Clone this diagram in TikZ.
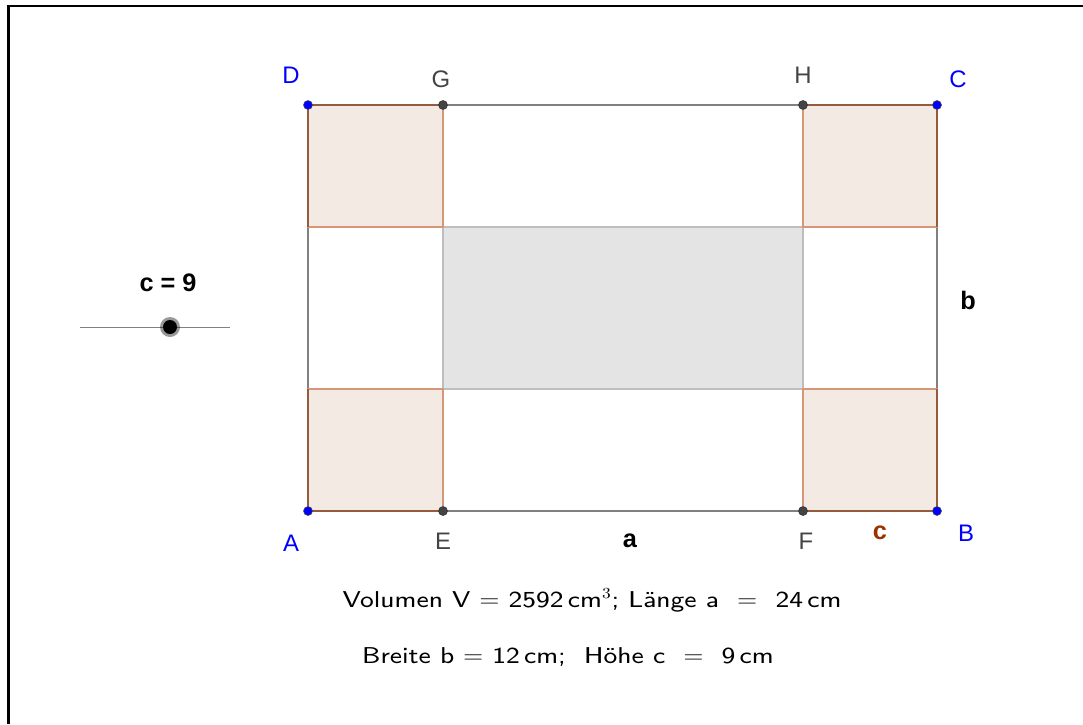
\documentclass[tikz,border=0pt]{standalone}
\usepackage{fontspec}
\newfontfamily\ggbfont{Liberation Sans}
\newfontfamily\sumfont{lmsans8-regular.otf}
\definecolor{ptblue}{RGB}{0,0,255}
\definecolor{ptgray}{RGB}{68,68,68}
\definecolor{cutfill}{RGB}{243,234,228}
\definecolor{cutline}{RGB}{214,150,120}
\definecolor{cutedge}{RGB}{150,90,60}
\definecolor{basefill}{RGB}{228,228,228}
\definecolor{baseline}{RGB}{190,190,190}
\definecolor{cbrown}{RGB}{153,51,0}

\tikzset{
  ptlabel/.style={font=\ggbfont\fontsize{17}{20}\selectfont, inner sep=0pt},
  sidelabel/.style={font=\ggbfont\bfseries\fontsize{18}{21}\selectfont, inner sep=0pt},
  sumtext/.style={font=\sumfont\fontsize{16.3}{19}\selectfont, inner sep=0pt},
  cutsquare/.style={fill=cutfill, draw=cutline, line width=1.2pt},
  sheetline/.style={draw=gray, line width=1pt},
}

\begin{document}
\begin{tikzpicture}[x=0.025cm,y=-0.025cm]
  \useasboundingbox (0,0) rectangle (1083,724);

  % frame, only top and left side
  \draw[line width=1.5pt] (1083,6) -- (8.5,6) -- (8.5,724);

  % corners of the sheet and the cut points
  \coordinate (A) at (308,511);
  \coordinate (B) at (937,511);
  \coordinate (C) at (937,105);
  \coordinate (D) at (308,105);
  \coordinate (E) at (443,511);
  \coordinate (F) at (803,511);
  \coordinate (G) at (443,105);
  \coordinate (H) at (803,105);
  % inner corners
  \coordinate (Dl) at (308,227);
  \coordinate (Gu) at (443,227);
  \coordinate (Hu) at (803,227);
  \coordinate (Cr) at (937,227);
  \coordinate (Al) at (308,389);
  \coordinate (Eo) at (443,389);
  \coordinate (Fo) at (803,389);
  \coordinate (Br) at (937,389);

  % the sheet
  \draw[sheetline] (A) -- (B) -- (C) -- (D) -- cycle;
  % base of the box
  \draw[fill=basefill, draw=baseline, line width=1pt] (Gu) rectangle (Fo);
  % the four squares cut away
  \draw[cutsquare] (D) rectangle (Gu);
  \draw[cutsquare] (Hu) rectangle (C);
  \draw[cutsquare] (Al) rectangle (E);
  \draw[cutsquare] (Fo) rectangle (B);
  % outer edges of the squares
  \draw[cutedge, line width=1.2pt] (Dl) -- (D) -- (G);
  \draw[cutedge, line width=1.2pt] (H) -- (C) -- (Cr);
  \draw[cutedge, line width=1.2pt] (Al) -- (A) -- (E);
  \draw[cutedge, line width=1.2pt] (F) -- (B) -- (Br);

  % points
  \foreach \p in {A,B,C,D}
    \fill[ptblue, draw=black!70, line width=0.4pt] (\p) circle (4.5);
  \foreach \p in {E,F,G,H}
    \fill[ptgray, draw=black!80, line width=0.4pt] (\p) circle (4.5);

  % point labels
  \node[ptlabel, text=ptblue] (lblD) at (291,75) {D};
  \node[ptlabel, text=ptblue] (lblC) at (958,79) {C};
  \node[ptlabel, text=ptblue] (lblA) at (291,543) {A};
  \node[ptlabel, text=ptblue] (lblB) at (966,533) {B};
  \node[ptlabel, text=ptgray] (lblG) at (441,79) {G};
  \node[ptlabel, text=ptgray] (lblH) at (803,75) {H};
  \node[ptlabel, text=ptgray] (lblE) at (443,541) {E};
  \node[ptlabel, text=ptgray] (lblF) at (806,541) {F};

  % side labels
  \node[sidelabel] (lbla) at (630,541) {a};
  \node[sidelabel] (lblb) at (968,300) {b};
  \node[sidelabel, text=cbrown] (lblc) at (880,533) {c};

  % slider for c
  \coordinate (slL) at (80,327);
  \coordinate (slR) at (230,327);
  \draw[gray, line width=0.6pt] (slL) -- (slR);
  \fill[black, opacity=0.4] (170,327) circle (10);
  \fill[black] (170,327) circle (7) coordinate (knob);
  \node[sidelabel] (sliderval) at (168,283) {c = 9};

  % results (a bit wide, as in the applet)
  \node[sumtext] (volumen) at (592,600)
    {\scalebox{1.13}[1]{Volumen V $=$ 2592\,cm$^3$; Länge a \ $=$ \ 24\,cm}};
  \node[sumtext] (breite) at (568,657)
    {\scalebox{1.13}[1]{Breite b $=$ 12\,cm; \ Höhe c \ $=$ \ 9\,cm}};

\end{tikzpicture}
\end{document}
